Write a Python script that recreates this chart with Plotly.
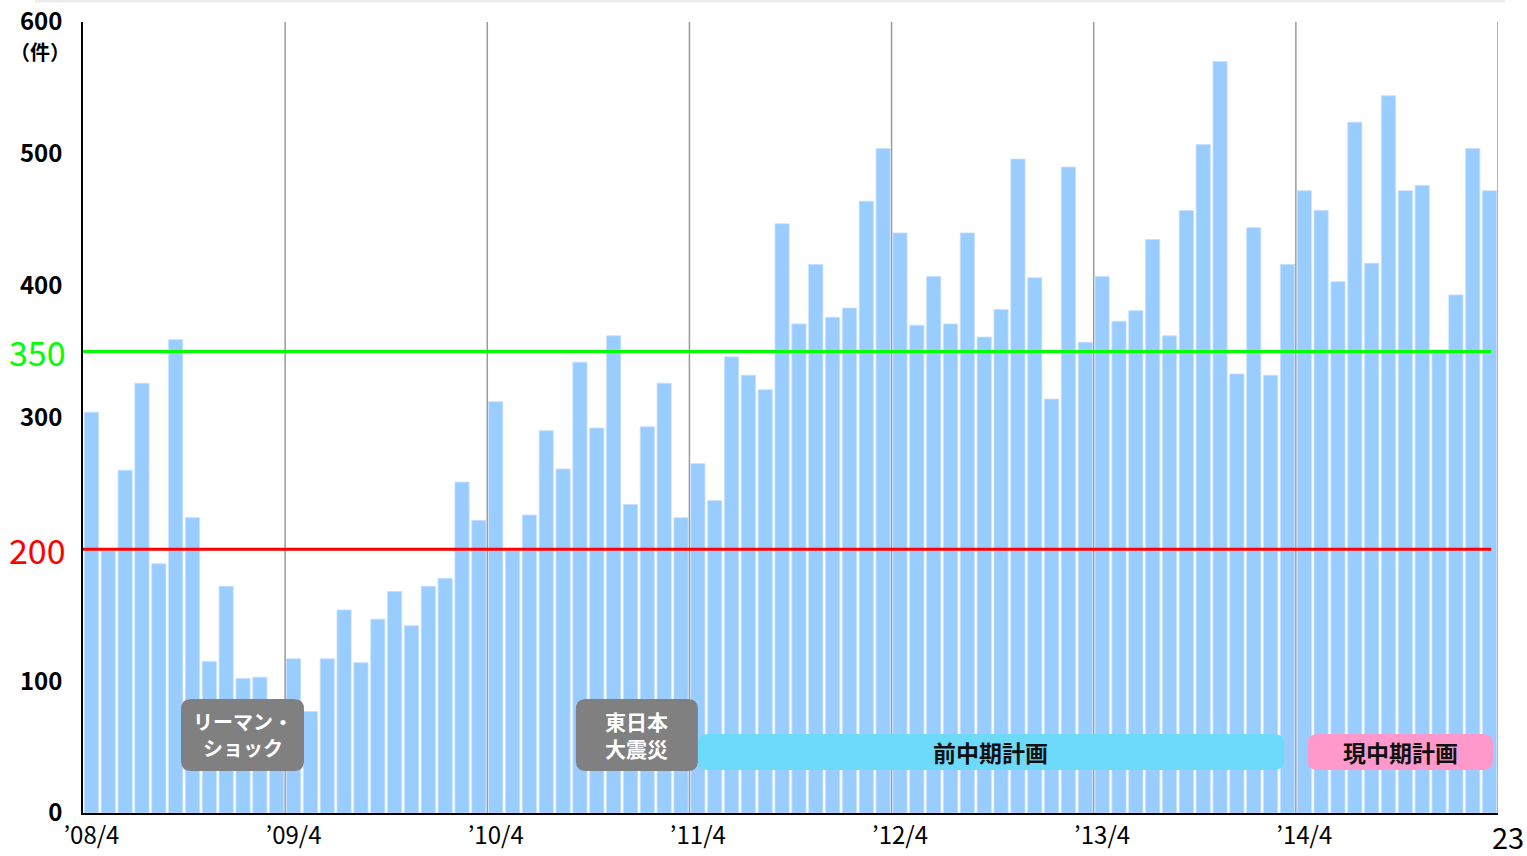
import plotly.graph_objects as go

# ---------------- data ----------------
months = list(range(84))  # 2008/4 .. 2015/3, monthly
counts = [
    304, 199, 260, 326, 189, 359, 224, 115, 172, 102, 103, 80,    # FY2008
    117, 77, 117, 154, 114, 147, 168, 142, 172, 178, 251, 222,    # FY2009
    312, 199, 226, 290, 261, 342, 292, 362, 234, 293, 326, 224,   # FY2010
    265, 237, 346, 332, 321, 447, 371, 416, 376, 383, 464, 504,   # FY2011
    440, 370, 407, 371, 440, 361, 382, 496, 406, 314, 490, 357,   # FY2012
    407, 373, 381, 435, 362, 457, 507, 570, 333, 444, 332, 416,   # FY2013
    472, 457, 403, 524, 417, 544, 472, 476, 351, 393, 504, 472,   # FY2014
]
tick_months = [0, 12, 24, 36, 48, 60, 72]
tick_labels = ["’08/4", "’09/4", "’10/4", "’11/4", "’12/4", "’13/4", "’14/4"]
year_bounds = [11.5, 23.5, 35.5, 47.5, 59.5, 71.5, 83.5]
y_ticks = [0, 100, 300, 400, 500, 600]
target_low, target_high = 200, 350

# ---------------- layout geometry ----------------
W, H = 1527, 856
L, R, T, B = 83, 29, 22, 43
PW, PH = W - L - R, H - T - B
XMIN, XMAX = -0.5, 83.5
YMAX = 600
px_per_x = PW / (XMAX - XMIN)
px_per_y = PH / YMAX

def px2paper(px):
    return (px - L) / PW

def py2paper(py):
    return (H - B - py) / PH

FONT = "Noto Sans CJK JP"
BAR = "#99CCFF"

fig = go.Figure()
fig.add_trace(go.Bar(
    x=months, y=counts, marker=dict(color=BAR, line=dict(color="#c4e0ff", width=0.8)),
    hoverinfo="x+y", showlegend=False,
))

shapes = []
# year boundaries
for xb in year_bounds:
    shapes.append(dict(type="line", xref="x", yref="y", x0=xb, x1=xb, y0=0, y1=YMAX,
                       line=dict(color="#9a9a9a", width=1.5), layer="below"))
# target lines
for val, col in [(target_high, "#00FF00"), (target_low, "#FF0000")]:
    shapes.append(dict(type="line", xref="x", yref="y", x0=XMIN, x1=83.1, y0=val, y1=val,
                       line=dict(color=col, width=3), layer="above"))

def rrect(x0, x1, y0, y1, rpx=10):
    rx, ry = rpx / px_per_x, rpx / px_per_y
    return (f"M {x0+rx},{y0} L {x1-rx},{y0} Q {x1},{y0} {x1},{y0+ry} "
            f"L {x1},{y1-ry} Q {x1},{y1} {x1-rx},{y1} L {x0+rx},{y1} "
            f"Q {x0},{y1} {x0},{y1-ry} L {x0},{y0+ry} Q {x0},{y0} {x0+rx},{y0} Z")

boxes = [
    # (x0, x1, y0, y1, color, text, text color, size)
    (36.0, 70.8, 32.6, 59.9, "#6CDAF8", "前中期計画", "#111111", 23),
    (72.2, 83.2, 32.6, 59.9, "#FF99CC", "現中期計画", "#111111", 23),
    (5.32, 12.62, 31.9, 86.5, "#808080", "リーマン・<br>ショック", "#FFFFFF", 20),
    (28.76, 36.0, 31.9, 86.5, "#808080", "東日本<br>大震災", "#FFFFFF", 21),
]
annotations = []
for x0, x1, y0, y1, col, txt, tcol, fs in boxes:
    shapes.append(dict(type="path", xref="x", yref="y", path=rrect(x0, x1, y0, y1),
                       fillcolor=col, line=dict(width=0), layer="above"))
    annotations.append(dict(x=(x0 + x1) / 2, y=(y0 + y1) / 2, xref="x", yref="y",
                            text=f"<b>{txt}</b>", showarrow=False,
                            font=dict(family=FONT, size=fs, color=tcol)))

# faint slide edge at top
shapes.append(dict(type="line", xref="paper", yref="paper",
                   x0=px2paper(35), x1=px2paper(1505), y0=py2paper(1), y1=py2paper(1),
                   line=dict(color="#ececec", width=3)))

# target value labels
annotations.append(dict(x=px2paper(68), y=target_high, xref="paper", yref="y",
                        xanchor="right", yanchor="middle", text=str(target_high), showarrow=False,
                        font=dict(family=FONT, size=34, color="#00FF00")))
annotations.append(dict(x=px2paper(68), y=target_low, xref="paper", yref="y",
                        xanchor="right", yanchor="middle", text=str(target_low), showarrow=False,
                        font=dict(family=FONT, size=34, color="#FF0000")))
# unit label
annotations.append(dict(x=px2paper(40), y=py2paper(51), xref="paper", yref="paper",
                        xanchor="center", yanchor="middle", text="<b>（件）</b>", showarrow=False,
                        font=dict(family=FONT, size=20, color="#000000")))
# page number
annotations.append(dict(x=px2paper(1508), y=py2paper(836), xref="paper", yref="paper",
                        xanchor="center", yanchor="middle", text="23", showarrow=False,
                        font=dict(family=FONT, size=29, color="#000000")))

fig.update_layout(
    width=W, height=H,
    margin=dict(l=L, r=R, t=T, b=B, pad=0, autoexpand=False),
    paper_bgcolor="white", plot_bgcolor="white",
    bargap=0.16,
    shapes=shapes, annotations=annotations,
    xaxis=dict(range=[XMIN, XMAX], tickmode="array", tickvals=tick_months, ticktext=tick_labels,
               showgrid=False, zeroline=False, showline=True, linecolor="#000000", linewidth=1.5,
               automargin=False,
               ticks="", tickfont=dict(family=FONT, size=24, color="#000000"), fixedrange=True),
    yaxis=dict(range=[0, YMAX], tickmode="array", tickvals=y_ticks,
               ticktext=[f"<b>{v}</b>" for v in y_ticks],
               showgrid=False, zeroline=False, showline=True, linecolor="#000000", linewidth=1.5,
               automargin=False, ticks="", ticklabelstandoff=14,
               tickfont=dict(family=FONT, size=24, color="#000000"), fixedrange=True),
)

post = ("var gd=document.getElementById('{plot_id}');"
        "gd.style.position='fixed';gd.style.top='0px';gd.style.left='0px';"
        "document.body.style.margin='0';document.body.style.overflow='hidden';"
        "document.documentElement.style.overflow='hidden';")
fig.write_html("out.html", config={"displayModeBar": False}, post_script=post)
